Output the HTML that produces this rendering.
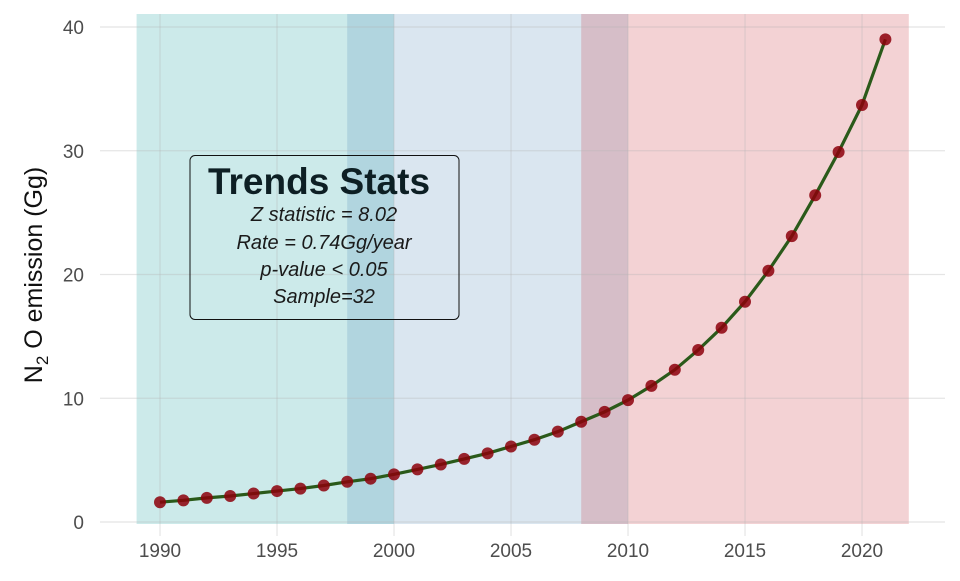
<!DOCTYPE html>
<html><head><meta charset="utf-8"><style>
body{margin:0;background:#fff;}
svg text{font-family:"Liberation Sans",sans-serif;}
</style></head><body>
<svg id="chart" width="960" height="576" xmlns="http://www.w3.org/2000/svg">
<g id="bg"></g><g id="grid"></g><g id="marks"></g><g id="axes"></g>
<g>
<rect x="190" y="155.5" width="269" height="164" rx="5" fill="none" stroke="#111" stroke-width="1"/>
<text x="319" y="194" text-anchor="middle" font-size="37" font-weight="bold" fill="#0d1f24">Trends Stats</text>
<text x="324" y="221" text-anchor="middle" font-size="20" font-style="italic" fill="#1a1a1a">Z statistic = 8.02</text>
<text x="324" y="249" text-anchor="middle" font-size="20" font-style="italic" fill="#1a1a1a">Rate = 0.74Gg/year</text>
<text x="324" y="276" text-anchor="middle" font-size="20" font-style="italic" fill="#1a1a1a">p-value &lt; 0.05</text>
<text x="324" y="303" text-anchor="middle" font-size="20" font-style="italic" fill="#1a1a1a">Sample=32</text>
</g>
<text transform="translate(42,275) rotate(-90)" text-anchor="middle" font-size="25" fill="#111">N<tspan font-size="17" dy="6">2</tspan><tspan dy="-6"> O emission (Gg)</tspan></text>
</svg>
<script>
const years=[1990,1991,1992,1993,1994,1995,1996,1997,1998,1999,2000,2001,2002,2003,2004,2005,2006,2007,2008,2009,2010,2011,2012,2013,2014,2015,2016,2017,2018,2019,2020,2021];
const emissions=[1.6,1.75,1.95,2.1,2.3,2.5,2.7,2.95,3.25,3.5,3.85,4.25,4.65,5.1,5.55,6.1,6.65,7.3,8.1,8.9,9.85,11.0,12.3,13.9,15.7,17.8,20.3,23.1,26.4,29.9,33.7,39.0];
const xTicks=[1990,1995,2000,2005,2010,2015,2020];
const yTicks=[0,10,20,30,40];
const periodStart=[1989,1998,2008];
const periodEnd=[2000,2010,2022];
const periodColor=["rgba(0,150,150,0.2)","rgba(70,130,180,0.2)","rgba(200,50,60,0.22)"];
const x=v=>160+(v-1990)*(862-160)/30;
const y=v=>522-v*(522-27)/40;
const NS="http://www.w3.org/2000/svg";
function mk(p,t,a){const e=document.createElementNS(NS,t);for(const k in a)e.setAttribute(k,a[k]);document.getElementById(p).appendChild(e);return e;}
periodStart.forEach((s,i)=>{const r=mk('bg','rect',{x:x(s),y:14,width:x(periodEnd[i])-x(s),height:510,fill:periodColor[i]});

});
xTicks.forEach(v=>{const l=mk('grid','line',{x1:x(v),x2:x(v),y1:14,y2:536,stroke:"rgba(180,180,180,0.35)","stroke-width":1.2});

});
yTicks.forEach(v=>{const l=mk('grid','line',{x1:100,x2:945,y1:y(v),y2:y(v),stroke:"rgba(180,180,180,0.35)","stroke-width":1.2});

});
const d=years.map((yr,i)=>(i?'L':'M')+x(yr)+','+y(emissions[i])).join('');
const ln=mk('marks','path',{d:d,fill:"none",stroke:"#2a5a1a","stroke-width":3.2});


years.forEach((yr,i)=>{const c=mk('marks','circle',{cx:x(yr),cy:y(emissions[i]),r:6,fill:"rgba(140,0,10,0.85)"});

});
xTicks.forEach(v=>{const t=mk('axes','text',{x:x(v),y:557,"text-anchor":"middle","font-size":19,fill:"#4d4d4d"});t.textContent=v;

});
yTicks.forEach(v=>{const t=mk('axes','text',{x:84,y:y(v)+7,"text-anchor":"end","font-size":19,fill:"#4d4d4d"});t.textContent=v;

});
</script>
</body></html>
